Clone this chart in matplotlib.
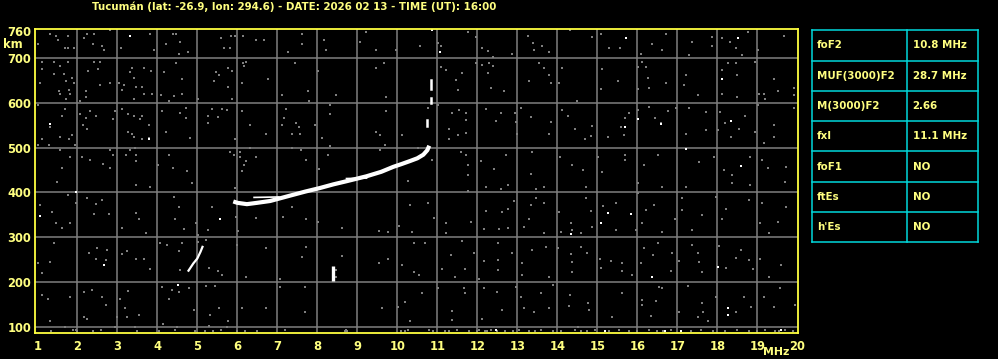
import matplotlib
matplotlib.use("Agg")
import matplotlib.pyplot as plt

title = "Tucumán (lat: -26.9, lon: 294.6) - DATE: 2026 02 13 - TIME (UT): 16:00"
freq_ticks = list(range(1, 21))
height_ticks = [100, 200, 300, 400, 500, 600, 700, 760]

table_names = ["foF2", "MUF(3000)F2", "M(3000)F2", "fxI", "foF1", "ftEs", "h'Es"]
table_values = ["10.8 MHz", "28.7 MHz", "2.66", "11.1 MHz", "NO", "NO", "NO"]

# F2 trace (main echo)
f2_freq = [5.9, 6.0, 6.24, 6.5, 6.82, 7.32, 7.7, 8.07, 8.4, 8.73, 9.23, 9.6, 9.9, 10.1, 10.32, 10.5, 10.65, 10.75, 10.8]
f2_height = [380, 377, 374, 377, 381, 393, 402, 410, 418, 425, 436, 446, 457, 463, 470, 476, 484, 494, 504]
# thin upper strands
strand1_freq = [6.42, 7.04]
strand1_height = [389, 390]
strand2_freq = [8.73, 9.23]
strand2_height = [431, 432]
# near-vertical spur at the critical frequency
spur_freq = [10.74, 10.74, 10.84, 10.84, 10.85, 10.85]
spur_height = [548, 562, 630, 650, 600, 610]
# lower oblique trace
low_freq = [4.78, 4.9, 5.0, 5.08, 5.13]
low_height = [226, 242, 253, 268, 279]
# vertical bar near 8.4 MHz
bar_freq = [8.4, 8.4]
bar_height = [202, 237]

# scattered noise (MHz, km)
noise_ul = [(1.33, 753), (1.48, 749), (1.78, 749), (1.53, 739), (1.69, 721), (1.78, 721), (1.93, 721), (1.03, 730),
            (2.25, 753), (2.43, 753), (2.17, 743), (2.39, 730), (2.63, 725), (2.68, 716), (2.83, 762), (3.09, 721),
            (3.83, 753), (3.92, 716), (4.23, 730), (4.39, 753), (4.48, 753), (4.57, 734), (4.54, 708), (4.78, 712),
            (5.59, 743), (5.84, 749), (5.94, 749), (5.83, 721), (5.68, 721), (6.14, 749), (6.48, 739), (6.68, 739),
            (7.28, 712), (7.63, 753), (7.63, 730), (8.18, 739), (8.23, 716), (9.08, 734), (9.23, 756), (9.48, 716),
            (9.98, 716),
            (1.11, 691), (1.43, 691), (1.58, 682), (1.78, 691), (1.11, 674), (1.08, 643), (1.43, 664), (1.68, 664),
            (1.71, 649), (1.86, 655), (1.93, 643), (1.54, 626), (1.58, 620), (1.79, 629), (1.83, 620), (1.73, 608),
            (2.08, 604), (2.23, 626), (2.23, 612), (2.28, 670), (2.43, 691), (2.57, 691), (2.53, 674), (2.58, 638),
            (2.83, 643), (3.04, 643), (3.11, 629), (3.18, 638), (3.33, 667), (3.38, 678), (3.43, 655), (3.48, 634),
            (3.67, 678), (3.63, 634), (3.85, 670), (3.67, 620), (3.88, 620), (3.43, 608), (4.17, 667), (4.09, 617),
            (4.29, 604), (4.43, 614), (4.46, 687), (4.63, 652), (4.63, 620), (5.03, 608), (5.48, 667), (5.54, 661),
            (5.43, 649), (5.78, 678), (5.88, 670), (5.78, 634), (5.88, 608), (6.14, 687), (6.18, 682), (6.23, 691),
            (6.13, 643), (6.78, 652), (7.13, 617), (7.44, 687), (7.78, 626), (7.79, 604), (8.03, 670), (8.48, 617),
            (9.48, 678), (9.68, 687), (9.73, 612),
            (1.03, 594), (1.69, 585), (1.63, 571), (1.33, 545), (1.11, 518), (1.58, 524), (1.79, 518), (1.88, 528),
            (1.03, 505), (1.29, 505), (1.94, 505), (2.08, 574), (2.23, 566), (2.14, 550), (2.25, 541), (2.46, 571),
            (2.33, 581), (2.89, 563), (2.94, 581), (3.13, 585), (3.28, 574), (3.43, 571), (3.61, 571), (3.58, 563),
            (3.79, 550), (3.28, 535), (3.38, 531), (3.43, 524), (3.63, 518), (3.79, 522), (4.13, 581), (4.23, 535),
            (4.57, 576), (4.73, 589), (4.73, 566), (4.83, 522), (5.28, 571), (5.28, 554), (5.38, 585), (5.53, 568),
            (5.63, 585), (5.75, 583), (5.94, 518), (6.13, 581), (6.33, 550), (6.73, 531), (7.23, 585), (7.17, 566),
            (7.13, 550), (7.46, 554), (7.54, 545), (7.38, 531), (7.58, 531), (7.94, 550), (8.13, 522), (8.33, 594),
            (8.33, 574), (9.73, 581), (9.48, 535), (9.58, 528), (10.13, 528),
            (1.58, 494), (1.83, 478), (1.63, 455), (2.13, 478), (2.33, 473), (2.64, 464), (2.83, 494), (2.83, 455),
            (2.89, 483), (3.23, 483), (3.33, 494), (3.44, 498), (3.48, 483), (3.48, 470), (4.03, 461), (4.29, 483),
            (4.39, 455), (4.75, 448), (5.81, 490), (5.92, 483), (6.08, 490), (6.08, 480), (6.23, 470), (6.18, 461),
            (6.13, 448), (6.31, 498), (6.48, 478), (7.38, 498), (7.59, 494), (7.73, 473), (8.04, 453), (8.26, 483),
            (8.31, 503), (9.58, 494), (9.69, 505)]

noise_ur = [(10.57, 725), (11.01, 732), (11.09, 725), (11.76, 756), (11.98, 747), (12.13, 721), (12.28, 714),
            (12.39, 702), (12.88, 708), (13.28, 749), (13.4, 732), (13.43, 716), (13.61, 725), (13.8, 712),
            (14.33, 762), (14.87, 747), (15.1, 753), (15.3, 721), (15.58, 721), (16.09, 708), (16.38, 730),
            (16.73, 753), (16.63, 716), (17.37, 734), (17.3, 706), (17.88, 747), (17.88, 725), (18.13, 743),
            (18.32, 734), (18.47, 721), (18.63, 706), (18.78, 758), (19.03, 716), (19.68, 749),
            (11.09, 680), (11.22, 672), (11.48, 650), (11.51, 628), (11.63, 665), (11.98, 687), (12.13, 684),
            (12.3, 687), (12.4, 682), (12.28, 665), (12.34, 633), (12.68, 626), (13.55, 687), (13.68, 676),
            (13.8, 661), (13.85, 643), (14.13, 676), (13.3, 648), (14.05, 643), (14.49, 603), (15.13, 674),
            (15.09, 630), (15.53, 648), (16.03, 680), (16.03, 630), (16.23, 680), (16.26, 654), (16.3, 632),
            (16.13, 691), (16.72, 643), (17.22, 661), (17.18, 638), (17.53, 617), (18.13, 672), (18.28, 687),
            (18.47, 687), (18.49, 661), (18.12, 620), (18.49, 613), (18.95, 691), (19.05, 620), (19.18, 620),
            (19.43, 652), (19.53, 626), (19.93, 632), (19.93, 617), (19.2, 609),
            (10.78, 587), (11.01, 594), (11.38, 576), (11.55, 583), (11.73, 576), (11.73, 561), (11.3, 542),
            (11.3, 520), (11.53, 527), (11.73, 533), (12.23, 585), (12.47, 559), (12.59, 576), (12.95, 576),
            (12.97, 557), (12.99, 529), (13.09, 587), (13.34, 568), (13.84, 557), (13.8, 529), (14.13, 583),
            (14.28, 571), (14.45, 541), (14.7, 519), (14.84, 526), (14.88, 548), (15.26, 524), (15.59, 545),
            (15.68, 528), (15.7, 566), (15.8, 576), (16.01, 583), (16.3, 591), (16.45, 566), (16.59, 554),
            (16.78, 581), (16.97, 587), (17.3, 589), (17.23, 531), (17.73, 580), (17.73, 539), (18.03, 539),
            (18.07, 580), (18.2, 554), (18.34, 524), (18.55, 542), (18.69, 571), (18.95, 535), (19.03, 594),
            (19.43, 550), (19.43, 524), (19.17, 509), (19.93, 587),
            (10.53, 499), (10.88, 472), (11.59, 489), (11.73, 483), (11.78, 461), (11.78, 438), (12.09, 470),
            (12.43, 453), (12.73, 483), (13.38, 490), (13.34, 442), (14.08, 479), (14.38, 461), (14.65, 450),
            (15.03, 479), (15.13, 446), (15.69, 483), (15.69, 472), (16.18, 461), (16.53, 483), (17.55, 468),
            (17.93, 479), (18.18, 450), (18.37, 438), (18.83, 479), (19.13, 472), (19.26, 455), (19.72, 457)]

noise_ll = [(3.83, 413), (1.5, 424), (3.46, 416), (4.88, 420), (5.94, 409), (10.28, 426),
            (1.78, 394), (1.08, 372), (1.38, 357), (1.46, 333), (1.63, 320), (1.83, 333), (1.96, 377),
            (2.25, 387), (2.48, 374), (2.63, 383), (2.42, 353), (2.79, 351), (3.13, 320), (3.46, 355),
            (3.71, 309), (3.54, 340), (4.42, 390), (4.54, 368), (4.44, 340), (4.67, 318), (4.96, 331),
            (5.28, 316), (5.38, 368), (5.96, 346), (6.03, 315), (6.46, 344), (7.14, 346), (7.38, 368),
            (7.73, 340), (8.03, 335), (8.63, 320), (9.54, 315), (9.78, 313), (10.33, 372), (10.04, 325),
            (10.38, 313),
            (1.42, 287), (1.33, 246), (1.03, 244), (1.13, 220), (2.29, 266), (2.5, 276), (2.75, 272),
            (2.46, 253), (2.71, 250), (3.13, 264), (3.25, 270), (3.46, 251), (3.67, 251), (3.83, 229),
            (4.08, 287), (4.25, 283), (4.63, 288), (4.54, 270), (4.58, 227), (5.02, 305), (5.03, 290),
            (5.23, 294), (5.29, 231), (5.53, 226), (5.63, 216), (6.0, 283), (6.23, 213), (6.71, 276),
            (7.08, 207), (7.63, 257), (7.73, 279), (8.46, 227), (8.46, 212), (8.63, 259), (9.54, 244),
            (9.78, 251), (10.13, 239), (10.42, 288), (10.42, 224),
            (1.13, 172), (1.28, 164), (1.83, 167), (2.17, 179), (2.36, 183), (2.63, 168), (2.71, 150),
            (3.08, 164), (3.19, 144), (3.28, 181), (2.17, 124), (2.25, 118), (3.0, 122), (3.25, 122),
            (3.54, 127), (4.13, 190), (4.38, 183), (4.29, 164), (4.54, 179), (4.79, 187), (4.92, 139),
            (5.23, 192), (5.44, 192), (5.33, 127), (5.54, 142), (5.78, 113), (6.13, 144), (6.71, 144),
            (7.08, 190), (7.69, 190), (7.69, 135), (9.63, 142), (10.03, 146), (10.19, 157), (10.33, 113),
            (1.69, 101), (1.33, 113), (1.98, 94), (2.94, 101), (3.44, 101), (4.14, 107), (4.5, 101),
            (5.29, 103), (5.75, 101), (8.71, 93), (10.28, 94)]

noise_lr = [(11.78, 404), (12.23, 413), (12.59, 407), (12.78, 416), (13.68, 413), (13.48, 407), (14.73, 413),
            (16.01, 421), (16.63, 413), (17.23, 413), (18.38, 420), (18.83, 416), (19.69, 424),
            (10.78, 377), (10.93, 344), (11.23, 331), (11.23, 309), (11.84, 335), (12.23, 359), (12.63, 357),
            (12.78, 364), (12.93, 381), (12.18, 318), (12.55, 318), (12.78, 320), (13.34, 372), (13.3, 342),
            (13.47, 387), (13.68, 376), (13.68, 310), (13.18, 324), (14.05, 357), (14.09, 313), (14.34, 331),
            (14.38, 316), (14.59, 309), (14.73, 387), (14.84, 359), (14.88, 324), (15.15, 370), (15.48, 377),
            (15.47, 316), (15.97, 316), (16.03, 398), (16.22, 361), (16.43, 372), (16.13, 333), (16.63, 313),
            (16.95, 340), (17.13, 362), (17.13, 387), (17.38, 316), (17.63, 350), (17.97, 390), (18.13, 340),
            (18.22, 364), (18.8, 383), (19.13, 376), (19.08, 331), (19.3, 309), (19.51, 335), (19.72, 368),
            (10.69, 288), (10.55, 216), (11.34, 261), (11.13, 229), (11.63, 293), (11.7, 229), (11.45, 213),
            (12.05, 207), (11.93, 266), (12.18, 248), (12.53, 287), (12.53, 250), (12.53, 227), (12.88, 266),
            (13.13, 244), (13.36, 272), (13.13, 216), (13.73, 279), (13.8, 213), (14.03, 276), (14.34, 263),
            (14.38, 246), (14.59, 279), (14.74, 265), (14.38, 224), (15.07, 251), (15.09, 231), (15.35, 248),
            (15.63, 244), (15.63, 226), (15.88, 216), (16.09, 242), (16.18, 276), (16.4, 261), (16.53, 288),
            (16.84, 226), (16.88, 266), (17.05, 248), (17.38, 283), (17.53, 266), (17.55, 246), (17.62, 224),
            (18.05, 281), (18.22, 233), (18.47, 255), (18.59, 273), (18.8, 250), (18.9, 229), (19.08, 253),
            (19.3, 213), (19.59, 239),
            (10.63, 177), (11.03, 187), (11.38, 137), (11.38, 116), (11.68, 187), (11.7, 176), (12.18, 187),
            (12.5, 179), (12.63, 138), (12.13, 118), (13.09, 168), (13.18, 144), (12.97, 190), (13.43, 135),
            (13.59, 176), (13.8, 144), (13.9, 194), (14.3, 147), (14.32, 172), (14.78, 155), (14.8, 139),
            (14.53, 101), (15.37, 124), (15.63, 177), (16.13, 161), (16.13, 150), (16.34, 126), (16.48, 158),
            (16.63, 187), (16.55, 190), (17.05, 133), (17.28, 192), (17.63, 153), (17.65, 135), (17.53, 124),
            (17.78, 113), (17.97, 168), (18.47, 135), (18.68, 168), (18.85, 146), (19.18, 168), (19.43, 146),
            (19.58, 187), (19.95, 150)]

# clutter along the bottom edge
bottom_freq = [1.35, 1.9, 2.0, 2.4, 2.6, 3.5, 4.05, 4.45, 4.95, 5.2, 5.4, 5.6, 6.0, 6.2, 6.5, 7.2, 8.7, 8.75,
               10.1, 10.2, 10.8, 10.9, 11.2, 11.3, 11.5, 11.8, 12.0, 12.05, 12.2, 12.25, 12.35, 12.5, 12.7,
               12.9, 13.05, 13.3, 13.45, 13.6, 13.9, 14.1, 14.45, 14.6, 14.75, 14.95, 15.2, 15.3, 15.55, 15.8,
               16.0, 16.3, 16.5, 16.65, 16.85, 17.1, 17.35, 17.6, 17.9, 18.2, 18.5, 18.8, 19.0, 19.2, 19.45,
               19.55, 19.7, 19.9]
bottom_height = [92, 93, 91, 92, 93, 91, 92, 93, 92, 91, 92, 93, 92, 91, 92, 93, 92, 91,
                 92, 91, 93, 92, 91, 92, 93, 91, 92, 93, 91, 92, 93, 92, 91,
                 92, 93, 91, 92, 93, 91, 92, 93, 91, 92, 93, 91, 92, 93, 91,
                 92, 93, 91, 92, 93, 91, 92, 93, 91, 92, 93, 91, 92, 93, 91,
                 92, 93, 91]

# isolated bright specks
white_pts = [(3.33, 748), (10.88, 762), (11.08, 712), (1.33, 552), (3.79, 520), (1.08, 347), (5.58, 340),
             (1.98, 400), (2.67, 239), (4.53, 194), (12.48, 94), (15.73, 743), (18.13, 652), (16.03, 563),
             (16.59, 552), (15.69, 545), (17.23, 496), (18.53, 743), (18.59, 459), (18.34, 559),
             (15.28, 355), (15.09, 333), (15.84, 352), (14.34, 307), (16.38, 213), (18.03, 235),
             (18.28, 142), (18.28, 127), (19.59, 94), (15.2, 92), (16.7, 92), (17.1, 92)]

yellow = "#ffff80"
grey = "#7f7f7f"
cyan = "#00d8dc"
font = "DejaVu Sans"

fig = plt.figure(figsize=(9.98, 3.59), dpi=100, facecolor="black")
ax = fig.add_axes([0.03537, 0.07326, 0.7639, 0.8451], facecolor="black")

ax.set_xlim(0.95, 20.01)
ax.set_ylim(88, 763)
for f in range(2, 20):
    ax.axvline(f, color=grey, lw=1.1, zorder=1)
for h in range(100, 800, 100):
    ax.axhline(h, color=grey, lw=1.1, zorder=1)

noise = noise_ul + noise_ur + noise_ll + noise_lr
ax.plot([p[0] for p in noise], [p[1] for p in noise], "s", ms=1.9, mew=0, color=grey, zorder=2)
ax.plot(bottom_freq, bottom_height, "s", ms=2.0, mew=0, color=grey, zorder=2)
ax.plot([p[0] for p in white_pts], [p[1] for p in white_pts], "s", ms=2.0, mew=0, color="white", zorder=3)

ax.plot(f2_freq, f2_height, color="white", lw=3.0, solid_capstyle="butt", zorder=4)
ax.plot(strand1_freq, strand1_height, color="white", lw=1.2, zorder=4)
ax.plot(strand2_freq, strand2_height, color="white", lw=1.2, zorder=4)
for i in range(0, len(spur_freq), 2):
    ax.plot(spur_freq[i:i + 2], spur_height[i:i + 2], color="white", lw=1.8, zorder=4)
ax.plot(low_freq, low_height, color="white", lw=1.6, zorder=4)
ax.plot(bar_freq, bar_height, color="white", lw=2.4, solid_capstyle="butt", zorder=4)

ax.set_xticks(freq_ticks)
ax.set_xticklabels([str(f) for f in freq_ticks])
ax.set_yticks(height_ticks)
ax.set_yticklabels([str(h) for h in height_ticks])
ax.tick_params(length=0, colors=yellow, labelsize=8.3)
ax.tick_params(axis="x", pad=5)
ax.tick_params(axis="y", pad=3)
for lbl in ax.get_xticklabels() + ax.get_yticklabels():
    lbl.set_fontweight("bold")
    lbl.set_family(font)
for sp in ax.spines.values():
    sp.set_color("#ffff40")
    sp.set_linewidth(1.3)
    sp.set_zorder(5)

fig.text(0.2949, 0.9805, title, color=yellow, fontsize=7.4, fontweight="bold",
         family=font, ha="center", va="center")
fig.text(0.013, 0.8747, "km", color=yellow, fontsize=8.3, fontweight="bold",
         family=font, ha="center", va="center")
fig.text(0.7775, 0.0203, "MHz", color=yellow, fontsize=7.8, fontweight="bold",
         family=font, ha="center", va="center")

# parameter table
tab = fig.add_axes([0.8139, 0.3251, 0.1658, 0.5905])
tab.set_xlim(0, 1)
tab.set_ylim(0, 7)
tab.axis("off")
for r in range(8):
    tab.plot([0, 1], [r, r], color=cyan, lw=1.1, clip_on=False)
for c in [0, 0.5744, 1]:
    tab.plot([c, c], [0, 7], color=cyan, lw=1.1, clip_on=False)
for i, (name, val) in enumerate(zip(table_names, table_values)):
    y = 7 - i - 0.5
    tab.text(0.03, y, name, color=yellow, fontsize=7.4, fontweight="bold",
             family=font, va="center", ha="left")
    tab.text(0.607, y, val, color=yellow, fontsize=7.4, fontweight="bold",
             family=font, va="center", ha="left")

fig.savefig("out.png", dpi=100, facecolor="black")
